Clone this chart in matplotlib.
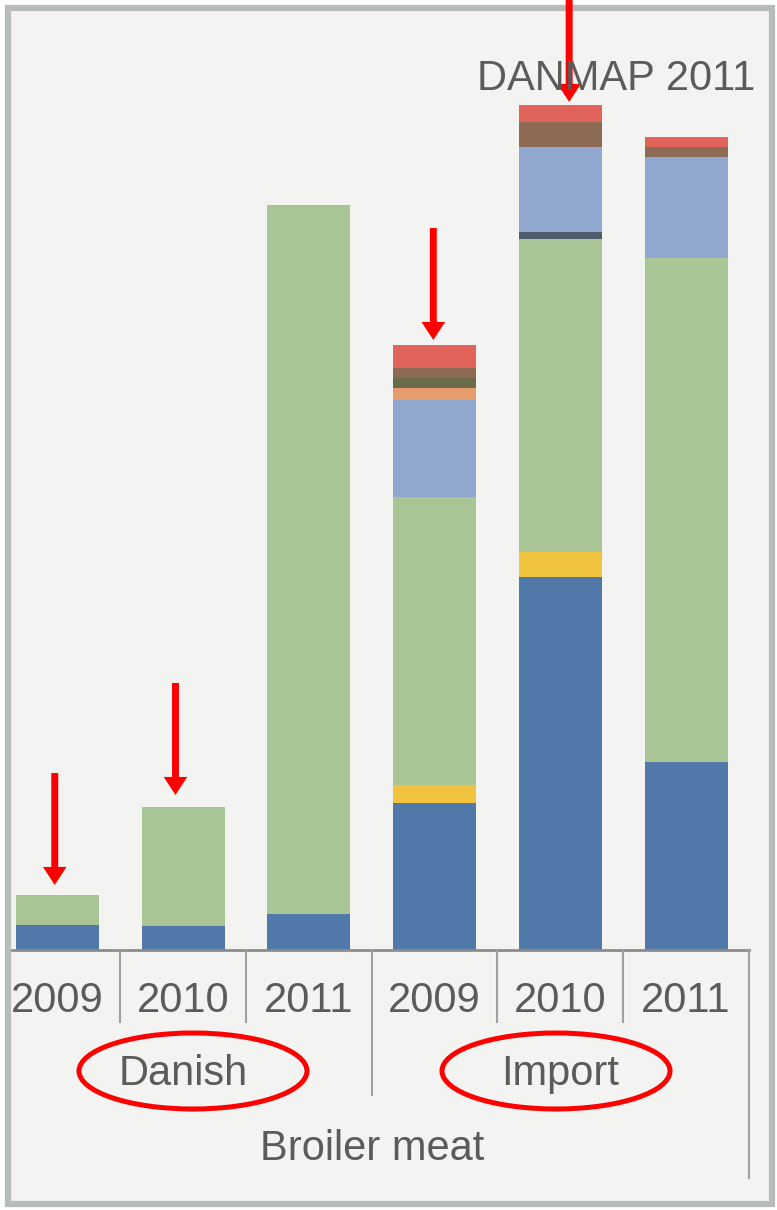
import matplotlib
matplotlib.use('Agg')
import matplotlib.pyplot as plt
from matplotlib.patches import Rectangle, Ellipse, FancyArrowPatch, ArrowStyle
import numpy as np

# --- Данные (условные единицы) ---
years = ['2009', '2010', '2011', '2009', '2010', '2011']
groups = ['Danish', 'Import']
blue = [2.5, 2.4, 3.6, 14.7, 37.3, 18.8]
yellow = [0, 0, 0, 1.8, 2.5, 0]
green = [3.0, 11.9, 70.9, 28.8, 31.3, 50.4]
slate = [0, 0, 0, 0, 0.7, 0]
light_blue = [0, 0, 0, 9.7, 8.5, 10.1]
orange = [0, 0, 0, 1.2, 0, 0]
olive = [0, 0, 0, 1.0, 0, 0]
brown = [0, 0, 0, 1.0, 2.5, 1.0]
red = [0, 0, 0, 2.3, 1.7, 1.0]
marked_bars = [0, 1, 3, 4]   # столбики со стрелками

series = [
    (blue, '#5079aa'),
    (yellow, '#f1c43f'),
    (green, '#a9c596'),
    (slate, '#4f5d6e'),
    (light_blue, '#91a7cf'),
    (orange, '#e79c6c'),
    (olive, '#6b6a4b'),
    (brown, '#8d6a53'),
    (red, '#e0645a'),
]

FONT = ['Liberation Sans', 'DejaVu Sans']
TXT = '#5b5b5b'
FS = 30
W, H = 777, 1210

fig = plt.figure(figsize=(W / 100, H / 100), dpi=100)

# фон и рамка
bg = fig.add_axes([0, 0, 1, 1])
bg.set_xlim(0, W)
bg.set_ylim(H, 0)
bg.axis('off')
bg.add_patch(Rectangle((8, 8), 764, 1196, fc='#f3f4f2', ec='#b9bdba', lw=4.5))

ax = fig.add_axes([12 / W, 260 / H, 737 / W, 938 / H])
ax.set_facecolor('none')
x = np.arange(len(years))
bottom = np.zeros(len(years))
for vals, col in series:
    ax.bar(x, vals, width=0.66, bottom=bottom, color=col, linewidth=0)
    bottom += np.array(vals)

ax.set_xlim(-0.36, 5.5)
ax.set_ylim(0, 93.8)
for s in ax.spines.values():
    s.set_visible(False)
ax.set_xticks([])
ax.set_yticks([])
ax.axhline(0, color='#8c8c8c', lw=2, clip_on=False)

tr = ax.get_xaxis_transform()
# разделители "таблицы" под осью
for xs, depth in [(0.5, -0.077), (1.5, -0.077), (2.5, -0.155),
                  (3.5, -0.077), (4.5, -0.077), (5.5, -0.243)]:
    ax.plot([xs, xs], [0, depth], transform=tr, color='#a0a0a0', lw=1.5, clip_on=False)

for i, yr in enumerate(years):
    ax.text(i, -0.054, yr, transform=tr, ha='center', va='center',
            fontsize=FS, color=TXT, family=FONT)
ax.text(1, -0.132, groups[0], transform=tr, ha='center', va='center',
        fontsize=FS, color=TXT, family=FONT)
ax.text(4, -0.132, groups[1], transform=tr, ha='center', va='center',
        fontsize=FS, color=TXT, family=FONT)
ax.text(2.5, -0.212, 'Broiler meat', transform=tr, ha='center', va='center',
        fontsize=FS, color=TXT, family=FONT)
ax.text(1.008, 0.929, 'DANMAP 2011', transform=ax.transAxes, ha='right', va='center',
        fontsize=FS, color=TXT, family=FONT)

# красные стрелки
arrow_dx = [-0.02, -0.06, -0.01, 0.07]
arrow_gap = [1.0, 1.2, 0.5, 0.3]
style = ArrowStyle.Simple(head_length=0.65, head_width=0.85, tail_width=0.25)
for b, dx, gap in zip(marked_bars, arrow_dx, arrow_gap):
    tip = bottom[b] + gap
    arr = FancyArrowPatch((b + dx, tip + 11.2), (b + dx, tip), arrowstyle=style,
                          mutation_scale=20, color='#ff0000', lw=0,
                          shrinkA=0, shrinkB=0, clip_on=False)
    ax.add_patch(arr)

# красные овалы вокруг подписей групп
for cx in (193, 556):
    bg.add_patch(Ellipse((cx, 1071), 228, 76, fill=False, ec='#ff0000', lw=3.6))

fig.savefig('out.png', dpi=100)
